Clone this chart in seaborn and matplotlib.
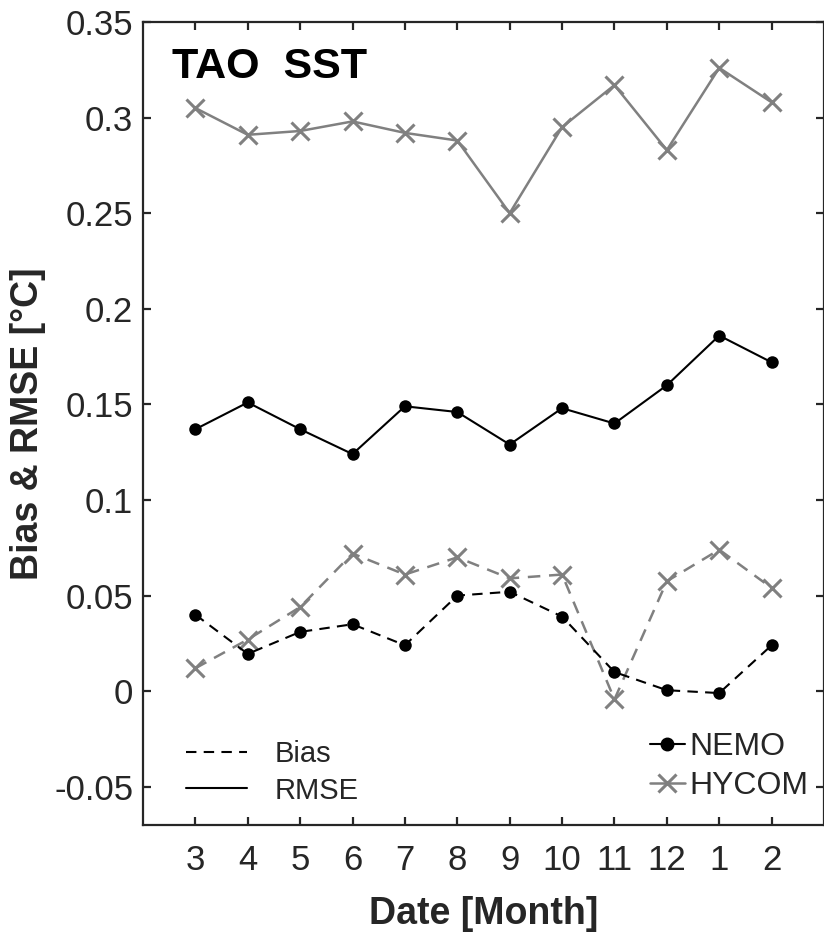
import numpy as np
import pandas as pd
import seaborn as sns
import matplotlib
matplotlib.use("Agg")
import matplotlib.pyplot as plt
from matplotlib.lines import Line2D

# data
months = ["3", "4", "5", "6", "7", "8", "9", "10", "11", "12", "1", "2"]
nemo_rmse = [0.137, 0.151, 0.137, 0.124, 0.149, 0.146, 0.129, 0.148, 0.140, 0.160, 0.186, 0.172]
hycom_rmse = [0.305, 0.291, 0.293, 0.298, 0.292, 0.288, 0.250, 0.295, 0.317, 0.283, 0.326, 0.308]
nemo_bias = [0.040, 0.0195, 0.031, 0.035, 0.024, 0.050, 0.052, 0.039, 0.010, 0.0005, -0.001, 0.024]
hycom_bias = [0.012, 0.027, 0.044, 0.072, 0.061, 0.070, 0.059, 0.061, -0.0043, 0.0575, 0.074, 0.054]

sns.set_style("ticks")
plt.rcParams["font.family"] = ["Liberation Sans", "DejaVu Sans"]
plt.rcParams["lines.scale_dashes"] = True

pos = np.arange(1, len(months) + 1)
df = pd.DataFrame({"pos": pos, "nemo_rmse": nemo_rmse, "hycom_rmse": hycom_rmse,
                   "nemo_bias": nemo_bias, "hycom_bias": hycom_bias})

fig = plt.figure(figsize=(8.24, 9.34), dpi=100)
ax = fig.add_axes([143 / 824, 1 - 825 / 934, 681 / 824, 803 / 934])

gray = "#808080"
dash = (0, (5, 3.5))
lw = 1.5

# HYCOM (gray, x markers)
sns.lineplot(data=df, x="pos", y="hycom_rmse", ax=ax, color=gray, lw=lw + 0.3,
             marker="x", markersize=13, markeredgecolor=gray, markeredgewidth=2.2)
sns.lineplot(data=df, x="pos", y="hycom_bias", ax=ax, color=gray, lw=lw + 0.3, linestyle=dash,
             marker="x", markersize=13, markeredgecolor=gray, markeredgewidth=2.2)
# NEMO (black, dots)
sns.lineplot(data=df, x="pos", y="nemo_rmse", ax=ax, color="black", lw=lw,
             marker="o", markersize=9, markeredgecolor="black", markeredgewidth=0)
sns.lineplot(data=df, x="pos", y="nemo_bias", ax=ax, color="black", lw=lw, linestyle=dash,
             marker="o", markersize=9, markeredgecolor="black", markeredgewidth=0)

ax.set_xlim(0, 13)
ax.set_ylim(-0.07, 0.35)
ax.set_xticks(pos)
ax.set_xticklabels(months)
yt = [-0.05, 0, 0.05, 0.1, 0.15, 0.2, 0.25, 0.3, 0.35]
ax.set_yticks(yt)
ax.set_yticklabels(["-0.05", "0", "0.05", "0.1", "0.15", "0.2", "0.25", "0.3", "0.35"])

for s in ax.spines.values():
    s.set_visible(True)
    s.set_linewidth(1.6)
    s.set_color("#262626")
ax.tick_params(axis="both", which="both", direction="in", length=6, width=1.6,
               color="#262626", labelsize=25, labelcolor="#262626",
               top=True, right=True)
ax.tick_params(axis="x", pad=14)
ax.tick_params(axis="y", pad=7)

ax.set_xlabel("Date [Month]", fontsize=27, fontweight="bold", color="#262626", labelpad=13)
ax.set_ylabel("Bias & RMSE [°C]", fontsize=27, fontweight="bold", color="#262626", labelpad=6)

ax.text(0.042, 0.930, "TAO  SST", transform=ax.transAxes, fontsize=31,
        fontweight="bold", va="baseline", ha="left", color="black")

# line-style legend
h1 = [Line2D([], [], color="black", lw=lw, linestyle=dash),
      Line2D([], [], color="black", lw=lw)]
leg1 = ax.legend(h1, ["Bias", "RMSE"], loc="upper left", bbox_to_anchor=(0.063, 0.106),
                 frameon=False, fontsize=21, handlelength=2.1, handletextpad=0.95,
                 labelspacing=0.3, borderpad=0, borderaxespad=0)
ax.add_artist(leg1)

# model legend
h2 = [Line2D([], [], color="black", lw=lw, marker="o", markersize=9),
      Line2D([], [], color=gray, lw=lw + 0.3, marker="x", markersize=13, markeredgewidth=2.2)]
ax.legend(h2, ["NEMO", "HYCOM"], loc="upper left", bbox_to_anchor=(0.744, 0.116),
          frameon=False, fontsize=23, handlelength=1.1, handletextpad=0.15,
          labelspacing=0.3, borderpad=0, borderaxespad=0)

fig.savefig("out.png", dpi=100)
